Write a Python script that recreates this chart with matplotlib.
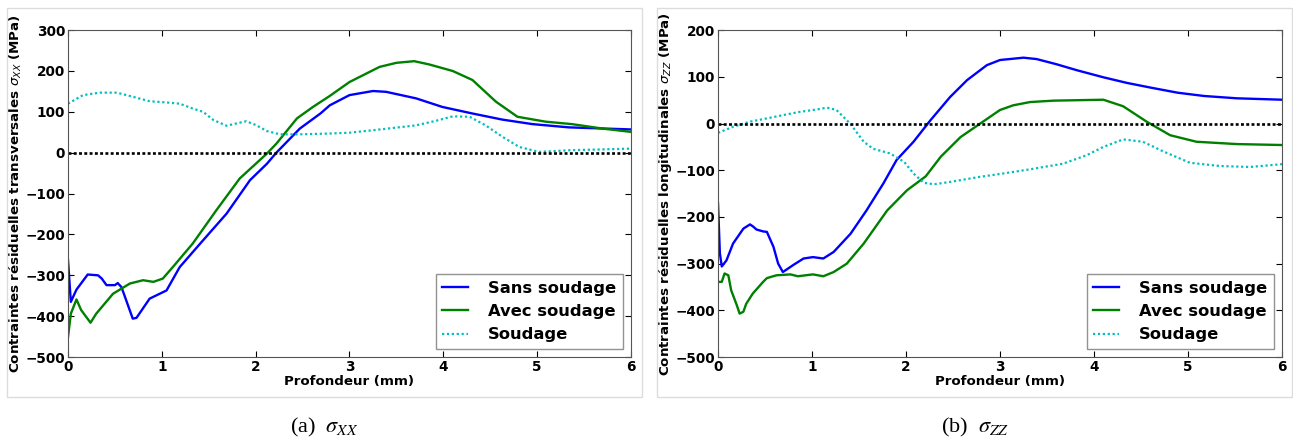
import numpy as np
import matplotlib
matplotlib.use('Agg')
import matplotlib.pyplot as plt
from matplotlib.patches import Rectangle

# sigma_XX (a)
xx_sans_x = [0, 0.03, 0.09, 0.21, 0.32, 0.36, 0.41, 0.5, 0.53, 0.57, 0.62, 0.69, 0.73, 0.87, 1.05, 1.19, 1.41, 1.69, 1.94, 2.12, 2.22, 2.47, 2.69, 2.79, 3.0, 3.25, 3.39, 3.71, 3.99, 4.31, 4.63, 4.95, 5.34, 6.0]
xx_sans_y = [-263, -365, -335, -298, -300, -308, -324, -324, -319, -329, -361, -406, -404, -357, -337, -280, -222, -149, -67, -27, 0, 59, 96, 116, 141, 151, 149, 133, 112, 96, 81, 70, 62, 57]
xx_avec_x = [0, 0.03, 0.09, 0.14, 0.24, 0.3, 0.48, 0.66, 0.8, 0.91, 1.01, 1.12, 1.33, 1.58, 1.83, 2.12, 2.22, 2.44, 2.61, 2.79, 3.0, 3.32, 3.5, 3.69, 3.85, 4.1, 4.31, 4.56, 4.79, 5.09, 5.37, 5.7, 6.0]
xx_avec_y = [-451, -394, -359, -385, -416, -394, -345, -320, -312, -316, -308, -279, -222, -141, -63, -2, 22, 84, 112, 139, 173, 210, 220, 224, 216, 200, 178, 125, 88, 76, 70, 59, 51]
xx_soud_x = [0, 0.16, 0.34, 0.52, 0.69, 0.87, 1.05, 1.19, 1.33, 1.44, 1.55, 1.69, 1.8, 1.9, 2.0, 2.12, 2.26, 2.47, 2.79, 3.0, 3.25, 3.71, 3.92, 4.1, 4.28, 4.45, 4.63, 4.81, 5.02, 5.34, 6.0]
xx_soud_y = [120, 141, 147, 147, 137, 126, 123, 120, 108, 100, 80, 66, 72, 77, 68, 53, 45, 45, 47, 49, 55, 67, 78, 89, 88, 67, 39, 14, 2, 6, 10]

# sigma_ZZ (b)
zz_sans_x = [0, 0.02, 0.04, 0.09, 0.16, 0.27, 0.34, 0.37, 0.41, 0.48, 0.52, 0.59, 0.64, 0.69, 0.8, 0.91, 1.01, 1.12, 1.23, 1.41, 1.58, 1.76, 1.9, 2.08, 2.26, 2.47, 2.65, 2.86, 3.0, 3.25, 3.39, 3.6, 3.82, 4.1, 4.35, 4.6, 4.89, 5.17, 5.52, 6.0]
zz_sans_y = [-171, -278, -306, -293, -257, -225, -216, -220, -227, -231, -232, -264, -300, -318, -303, -289, -286, -289, -275, -236, -186, -128, -78, -39, 7, 57, 93, 125, 136, 141, 138, 127, 114, 99, 87, 77, 66, 59, 54, 51]
zz_avec_x = [0, 0.04, 0.07, 0.11, 0.14, 0.2, 0.23, 0.27, 0.3, 0.37, 0.48, 0.52, 0.62, 0.77, 0.85, 1.01, 1.12, 1.23, 1.37, 1.55, 1.8, 2.01, 2.21, 2.37, 2.58, 2.79, 3.0, 3.14, 3.32, 3.57, 4.1, 4.31, 4.56, 4.81, 5.09, 5.52, 6.0]
zz_avec_y = [-339, -339, -321, -325, -357, -389, -407, -403, -386, -364, -339, -331, -325, -323, -327, -323, -327, -318, -300, -257, -186, -143, -113, -71, -29, 0, 29, 39, 46, 49, 51, 37, 4, -25, -39, -44, -46]
zz_soud_x = [0, 0.16, 0.34, 0.52, 0.69, 0.87, 1.05, 1.16, 1.26, 1.41, 1.55, 1.65, 1.83, 1.98, 2.08, 2.19, 2.3, 2.47, 2.79, 3.0, 3.32, 3.67, 3.92, 4.1, 4.31, 4.52, 4.74, 5.02, 5.34, 5.66, 6.0]
zz_soud_y = [-20, -7, 4, 11, 18, 25, 30, 34, 29, -1, -39, -54, -64, -82, -107, -127, -130, -125, -114, -108, -98, -86, -68, -50, -34, -39, -60, -84, -91, -93, -87]

labels = ['Sans soudage', 'Avec soudage', 'Soudage']

fig = plt.figure(figsize=(12.93, 4.43), dpi=100)

# light grey frames around each sub figure
for x0 in [0.0054, 0.508]:
    fig.patches.append(Rectangle((x0, 0.1038), 0.4915, 0.878, transform=fig.transFigure,
                                 fill=False, edgecolor='#dcdcdc', linewidth=1.0))

panels = [
    ([0.0526, 0.194, 0.4354, 0.738], (xx_sans_x, xx_sans_y), (xx_avec_x, xx_avec_y), (xx_soud_x, xx_soud_y),
     (-500, 300), 'Contraintes résiduelles transversales $\\sigma_{XX}$ (MPa)', '(a)  $\\sigma_{XX}$', 0.251),
    ([0.5553, 0.194, 0.4362, 0.738], (zz_sans_x, zz_sans_y), (zz_avec_x, zz_avec_y), (zz_soud_x, zz_soud_y),
     (-500, 200), 'Contraintes résiduelles longitudinales $\\sigma_{ZZ}$ (MPa)', '(b)  $\\sigma_{ZZ}$', 0.754),
]

for pos, sans, avec, soud, ylim, ylab, cap, cx in panels:
    ax = fig.add_axes(pos)
    ax.plot(sans[0], sans[1], color='#0000ff', lw=1.7, label=labels[0])
    ax.plot(avec[0], avec[1], color='#008000', lw=1.7, label=labels[1])
    ax.plot(soud[0], soud[1], color='#00bfbf', lw=1.6, dashes=(1, 1.2), label=labels[2])
    ax.axhline(0, color='black', lw=1.9, dashes=(1.1, 0.9))
    ax.set_xlim(0, 6)
    ax.set_ylim(*ylim)
    ax.set_yticks(np.arange(ylim[0], ylim[1] + 1, 100))
    ax.tick_params(direction='in', top=True, right=True, length=4, pad=2, labelsize=9.8)
    for lab in ax.get_xticklabels() + ax.get_yticklabels():
        lab.set_fontweight('bold')
    for sp in ax.spines.values():
        sp.set_color('#555555')
    ax.set_xlabel('Profondeur (mm)', fontsize=9.6, fontweight='bold', labelpad=1)
    ax.set_ylabel(ylab, fontsize=9.6, fontweight='bold', labelpad=1)
    leg = ax.legend(loc='lower right', prop={'weight': 'bold', 'size': 11.8}, fancybox=False,
                    borderaxespad=0.5, handlelength=1.6, handletextpad=1.2)
    leg.get_frame().set_edgecolor('#777777')
    fig.text(cx, 0.034, cap, ha='center', va='center', fontsize=16,
             family='Liberation Serif', math_fontfamily='stix')

fig.savefig('out.png', dpi=100)
